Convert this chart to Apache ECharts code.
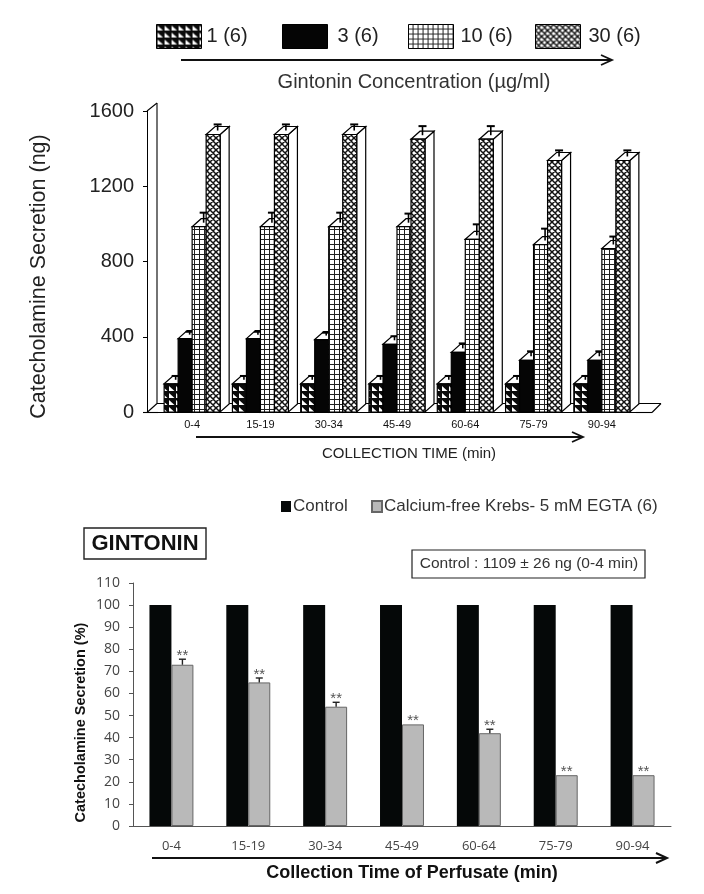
<!DOCTYPE html>
<html><head><meta charset="utf-8">
<style>html,body{margin:0;padding:0;background:#fff}#c{width:704px;height:894px}</style>
<script src="https://cdn.jsdelivr.net/npm/echarts@6/dist/echarts.min.js"></script>
</head><body><div id="c"></div>
<script>
// ---- data ----
const times = ['0-4','15-19','30-34','45-49','60-64','75-79','90-94'];
const conc1 = [150,150,150,150,150,150,150];
const conc3 = [390,390,385,360,317,275,275];
const conc10 = [985,985,985,985,918,890,869];
const conc30 = [1475,1475,1475,1450,1450,1337,1337];
const err1 = [15,15,15,15,15,15,15];
const err3 = [10,10,10,16,21,21,21];
const err10 = [48,48,48,43,53,58,37];
const err30 = [27,27,27,43,43,27,27];
const names1 = ['1 (6)','3 (6)','10 (6)','30 (6)'];
const ticks1 = [0,400,800,1200,1600];

const control = [100,100,100,100,100,100,100];
const egta = [73,65,54,46,42,23,23];
const egtaErr = [2.5,2,2,0,1.8,0,0];
const stars = ['**','**','**','**','**','**','**'];
const names2 = ['Control','Calcium-free Krebs- 5 mM EGTA (6)'];

// ---- hatch patterns ----
function tile(w,h,draw){const c=document.createElement('canvas');c.width=w;c.height=h;draw(c.getContext('2d'));return {image:c,repeat:'repeat'};}
const pTri = tile(7,7,g=>{g.fillStyle='#0a0a0a';g.fillRect(0,0,7,7);g.fillStyle='#fff';g.beginPath();g.moveTo(1,1);g.lineTo(6.5,6);g.lineTo(1,6);g.closePath();g.fill();});
const pGrid = tile(5,5,g=>{g.fillStyle='#fff';g.fillRect(0,0,5,5);g.fillStyle='#222';g.fillRect(0,4,5,1);g.fillRect(4,0,1,5);});
const pCross = tile(6,6,g=>{g.fillStyle='#fff';g.fillRect(0,0,6,6);g.strokeStyle='#111';g.lineWidth=1.5;g.beginPath();
  [[-1,-1,7,7],[-1,5,1,7],[5,-1,7,1],[-1,7,7,-1],[-1,1,1,-1],[5,7,7,5]].forEach(a=>{g.moveTo(a[0],a[1]);g.lineTo(a[2],a[3]);});g.stroke();});
const fills = [pTri,'#050505',pGrid,pCross];

// ---- 3D hatched bars through the axis scales ----
function bar3d(idx){
  return function(params,api){
    const i=api.value(0), v=api.value(1), e=api.value(2);
    const band=api.size([1,0])[0], w=band*0.205;
    const base=api.coord([i,0]), top=api.coord([i,v]);
    const x=base[0]+(idx-2)*w, y=top[1], y0=base[1], dx=9, dy=8;
    const kids=[
      {type:'polygon',shape:{points:[[x+w,y],[x+w+dx,y-dy],[x+w+dx,y0-dy],[x+w,y0]]},style:{fill:'#fff',stroke:'#000',lineWidth:1.2}},
      {type:'polygon',shape:{points:[[x,y],[x+dx,y-dy],[x+w+dx,y-dy],[x+w,y]]},style:{fill:'#fff',stroke:'#000',lineWidth:1.2}}
    ];
    if(e>0){
      const cx=x+w/2+dx/2, cyTop=api.coord([i,v+e])[1]-dy/2-1, cyBase=y-dy/2;
      kids.push({type:'line',shape:{x1:cx,y1:cyBase,x2:cx,y2:cyTop},style:{stroke:'#000',lineWidth:1.6}});
      kids.push({type:'line',shape:{x1:cx-4,y1:cyTop,x2:cx+4,y2:cyTop},style:{stroke:'#000',lineWidth:2}});
    }
    kids.push({type:'rect',shape:{x:x,y:y,width:w,height:y0-y},style:{fill:fills[idx],stroke:'#000',lineWidth:1.2}});
    return {type:'group',children:kids};
  };
}
function mk1(idx,vals,errs){
  return {type:'custom',name:names1[idx],xAxisIndex:0,yAxisIndex:0,z:2+idx,
    itemStyle:{color:fills[idx],borderColor:'#000',borderWidth:1},
    renderItem:bar3d(idx),encode:{x:0,y:1},
    data:vals.map((v,i)=>[i,v,errs[i]])};
}
function errStar(params,api){
  const i=api.value(0), v=api.value(1), e=api.value(2), s=stars[i];
  const band=api.size([1,0])[0], w=band*0.286;
  const cx=api.coord([i,0])[0]+w/2, y=api.coord([i,v])[1], yt=api.coord([i,v+e])[1];
  const kids=[];
  if(e>0){
    kids.push({type:'line',shape:{x1:cx,y1:y,x2:cx,y2:yt},style:{stroke:'#222',lineWidth:1.4}});
    kids.push({type:'line',shape:{x1:cx-3.5,y1:yt,x2:cx+3.5,y2:yt},style:{stroke:'#222',lineWidth:1.4}});
  }
  kids.push({type:'text',style:{x:cx,y:yt+4,text:s,fill:'#555',font:'15px "Liberation Sans"',textAlign:'center',textVerticalAlign:'bottom'}});
  return {type:'group',children:kids};
}
function arrow(x1,x2,y,lw){
  return [{type:'line',z:10,shape:{x1:x1,y1:y,x2:x2,y2:y},style:{stroke:'#111',lineWidth:lw}},
    {type:'polyline',z:10,shape:{points:[[x2-11,y-5],[x2,y],[x2-11,y+5]]},style:{stroke:'#111',lineWidth:lw,fill:'none'}}];
}
function ln(x1,y1,x2,y2){return {type:'line',z:0,shape:{x1,y1,x2,y2},style:{stroke:'#000',lineWidth:1.1}};}
function lab(x,y,t,font,fill,align){return {type:'text',z:10,style:{x,y,text:t,font,fill:fill||'#222',textAlign:align||'center',textVerticalAlign:'middle'}};}

const sans='"Liberation Sans"';
const lg1=(i,left,pad)=>({data:[names1[i]],left:left,top:24,padding:0,itemWidth:45,itemHeight:24,icon:'rect',selectedMode:false,
  textStyle:{fontSize:20,fontFamily:sans,color:'#222',padding:[0,0,0,pad]},
  itemStyle:{borderColor:'#000',borderWidth:1}});
const lg2=(i,left)=>({data:[names2[i]],left:left,top:498,padding:0,itemWidth:10,itemHeight:11,icon:'rect',selectedMode:false,
  textStyle:{fontSize:17,fontFamily:sans,color:'#333',padding:[0,0,0,-3]}});

const chart=echarts.init(document.getElementById('c'),null,{renderer:'canvas'});
chart.setOption({
  animation:false,backgroundColor:'#fff',
  textStyle:{fontFamily:sans},
  legend:[lg1(0,156,0),lg1(1,282,5),lg1(2,408,2),lg1(3,535,3),lg2(0,281),lg2(1,371)],
  grid:[{left:158,width:478,top:111,height:301},{left:133,width:538,top:583,height:243}],
  xAxis:[
    {type:'category',gridIndex:0,data:times,position:'bottom',
     axisLine:{lineStyle:{color:'#000',width:1.2}},axisTick:{alignWithLabel:true,length:3,lineStyle:{color:'#000'}},
     axisLabel:{fontSize:11,color:'#111',margin:7,interval:0},
     name:'COLLECTION TIME (min)',nameLocation:'middle',nameGap:34,
     nameTextStyle:{fontSize:15,color:'#222',padding:[0,0,0,24],fontWeight:'normal'}},
    {type:'category',gridIndex:1,data:times,
     axisLine:{lineStyle:{color:'#555'}},axisTick:{show:false},
     axisLabel:{fontSize:13,fontFamily:'"Open Sans"',color:'#444',margin:14,interval:0},
     name:'Collection Time of Perfusate (min)',nameLocation:'middle',nameGap:38,
     nameTextStyle:{fontSize:18,fontWeight:'bold',color:'#111',padding:[0,0,0,20]}}
  ],
  yAxis:[
    {type:'value',gridIndex:0,min:0,max:1600,interval:400,offset:11,
     axisLine:{show:true,lineStyle:{color:'#000'}},axisTick:{show:true,length:4,lineStyle:{color:'#000'}},splitLine:{show:false},
     axisLabel:{fontSize:20,color:'#222',margin:13,padding:[4,0,0,0],formatter:v=>ticks1.includes(v)?String(v):''},
     name:'Catecholamine Secretion (ng)',nameLocation:'middle',nameGap:97,
     nameTextStyle:{fontSize:21.5,color:'#222',padding:[0,30,0,0]}},
    {type:'value',gridIndex:1,min:0,max:110,interval:10,
     axisLine:{show:true,lineStyle:{color:'#555'}},axisTick:{show:true,length:4,lineStyle:{color:'#555'}},splitLine:{show:false},
     axisLabel:{fontSize:14,fontFamily:'"Open Sans"',color:'#444',margin:13},
     name:'Catecholamine Secretion (%)',nameLocation:'middle',nameGap:45,nameMoveOverlap:false,
     nameTextStyle:{fontSize:14.5,fontWeight:'bold',color:'#111',padding:[0,36,0,0]}}
  ],
  series:[
    mk1(0,conc1,err1),mk1(1,conc3,err3),mk1(2,conc10,err10),mk1(3,conc30,err30),
    {type:'bar',name:names2[0],xAxisIndex:1,yAxisIndex:1,data:control,barWidth:'28.6%',barGap:'0%',
     itemStyle:{color:'#050808'}},
    {type:'bar',name:names2[1],xAxisIndex:1,yAxisIndex:1,data:egta,barWidth:'28.6%',barGap:'0%',
     itemStyle:{color:'#b9b9b9',borderColor:'#666',borderWidth:1}},
    {type:'custom',name:'err',xAxisIndex:1,yAxisIndex:1,z:5,renderItem:errStar,encode:{x:0,y:1},
     data:egta.map((v,i)=>[i,v,egtaErr[i]])}
  ],
  graphic:[
    // 3D wall and floor frame of the upper chart
    ln(147,111,157,103),ln(157,103,157,403.5),ln(147,412.5,157,403.5),ln(157,403.5,661,403.5),
    ln(143,412.5,158,412.5),ln(636,412.5,652,412.5),ln(652,412.5,661,403.5),
    ...arrow(181,612,60,1.8),
    lab(414,82,'Gintonin Concentration (µg/ml)','20px "Liberation Sans"','#333'),
    ...arrow(196,583,437,1.8),
    ...arrow(152,667,858,2),
    {type:'rect',z:10,shape:{x:84,y:528,width:122,height:31},style:{fill:'#fff',stroke:'#222',lineWidth:1.4}},
    lab(145,544,'GINTONIN','bold 22px "Liberation Sans"','#111'),
    {type:'rect',z:10,shape:{x:412,y:550,width:233,height:28},style:{fill:'#fff',stroke:'#222',lineWidth:1.2}},
    lab(529,564,'Control : 1109 ± 26 ng (0-4 min)','15.5px "Liberation Sans"','#333')
  ]
});
</script></body></html>
